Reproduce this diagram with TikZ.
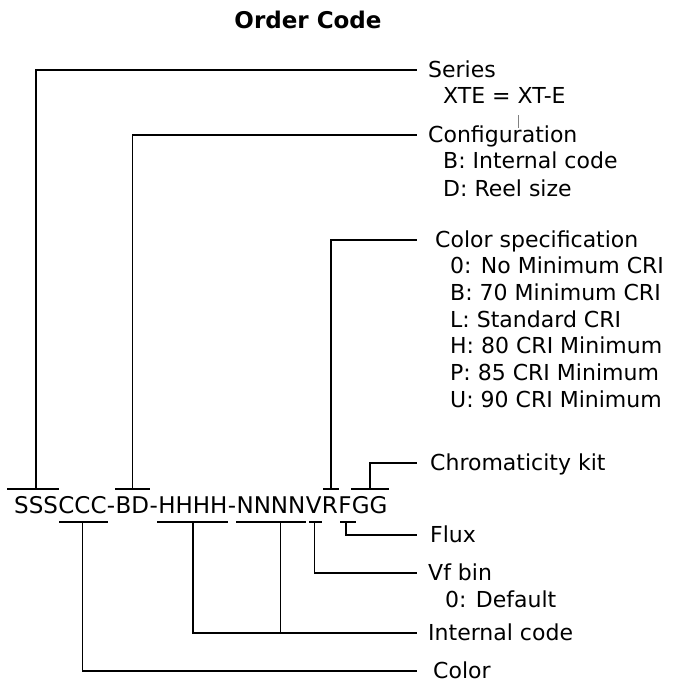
\documentclass[tikz,border=0pt]{standalone}
\usepackage{fontspec}
\setmainfont{DejaVu Sans}
\usetikzlibrary{calc}
\tikzset{
  conn/.style={line width=1.6pt, line cap=rect},
  lab/.style={anchor=west, inner ysep=0pt, text height=14pt, text depth=0pt, inner xsep=#1, font=\fontsize{22}{26}\selectfont},
  lab/.default=12pt,
  sub/.style={anchor=base west, inner sep=0pt, font=\fontsize{22}{26}\selectfont},
  code/.style={anchor=base west, inner sep=0pt, font=\fontsize{23}{27}\selectfont},
  ttl/.style={anchor=base, inner sep=0pt, font=\fontsize{23}{27}\selectfont\bfseries}
}
\begin{document}
\begin{tikzpicture}[x=1pt, y=-1pt]
\useasboundingbox (0,0) rectangle (674,681);
% title
\node[ttl] (title) at (308,28) {Order Code};
% code string
\node[code] (sss) at (14,513) {SSS};
\node[code, at=(sss.base east)] (ccc) {CCC};
\node[code, at=(ccc.base east)] (h1) {-};
\node[code, at=(h1.base east)] (bd) {BD};
\node[code, at=(bd.base east)] (h2) {-};
\node[code, at=(h2.base east)] (hhhh) {HHHH};
\node[code, at=(hhhh.base east)] (h3) {-};
\node[code, at=(h3.base east)] (nnnn) {NNNN};
\node[code, at=(nnnn.base east)] (v) {V};
\node[code, at=(v.base east)] (r) {R};
\node[code, at=(r.base east)] (f) {F};
\node[code, at=(f.base east)] (gg) {GG};
\coordinate (ov) at (0,489);
\coordinate (un) at (0,522);
% labels
\node[lab] (series) at (416,70) {Series};
\node[sub] (series1) at (443,103) {XTE = XT-E};
\node[lab] (config) at (416,135) {Configuration};
\node[sub] (config1) at (443,168) {B: Internal code};
\node[sub] (config2) at (443,196) {D: Reel size};
\node[lab=19pt] (colspec) at (416,240) {Color specification};
\node[sub] (cs1) at (450,273) {0: No Minimum CRI};
\node[sub] (cs2) at (450,300) {B: 70 Minimum CRI};
\node[sub] (cs3) at (450,327) {L: Standard CRI};
\node[sub] (cs4) at (450,353) {H: 80 CRI Minimum};
\node[sub] (cs5) at (450,380) {P: 85 CRI Minimum};
\node[sub] (cs6) at (450,407) {U: 90 CRI Minimum};
\node[lab=14pt] (chroma) at (416,463) {Chromaticity kit};
\node[lab=14pt] (flux) at (416,535) {Flux};
\node[lab] (vfbin) at (416,573) {Vf bin};
\node[sub] (vf1) at (445,607) {0: Default};
\node[lab] (intcode) at (416,633) {Internal code};
\node[lab=17pt] (colorl) at (416,671) {Color};
% overlines and connectors above
\draw[conn] ([xshift=-6pt]sss.west |- ov) -- (sss.east |- ov);
\draw[conn] (series.west) -| (sss.center |- ov);
\draw[conn] (bd.west |- ov) -- (bd.east |- ov);
\draw[conn] (config.west) -| (bd.center |- ov);
\draw[conn] ([xshift=2pt]r.west |- ov) -- (r.east |- ov);
\draw[conn] (colspec.west) -| ([xshift=1pt]r.center |- ov);
\draw[conn] (gg.west |- ov) -- (gg.east |- ov);
\draw[conn] (chroma.west) -| (gg.center |- ov);
% underlines and connectors below
\draw[conn] ([xshift=2pt]ccc.west |- un) -- (ccc.east |- un);
\draw[conn] (colorl.west) -| (ccc.center |- un);
\draw[conn] (hhhh.west |- un) -- (hhhh.east |- un);
\draw[conn] (intcode.west) -| (hhhh.center |- un);
\draw[conn] (nnnn.west |- un) -- (nnnn.east |- un);
\coordinate (nstem) at ($(nnnn.west)!0.64!(nnnn.east)$);
\draw[conn] (nstem |- un) -- (nstem |- intcode.west);
\draw[conn] ([xshift=4pt]v.west |- un) -- ([xshift=-1pt]v.east |- un);
\draw[conn] (vfbin.west) -| ([xshift=1pt]v.center |- un);
\draw[conn] ([xshift=3pt]f.west |- un) -- ([xshift=3pt]f.east |- un);
\draw[conn] (flux.west) -| ([xshift=1pt]f.center |- un);
% stray tick
\draw[gray, line width=0.6pt] (518,115) -- (518,128);
\end{tikzpicture}
\end{document}
